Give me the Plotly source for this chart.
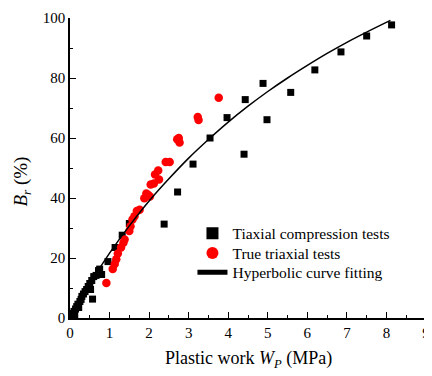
import plotly.graph_objects as go

# Triaxial compression tests (black squares)
tc_x = [0.03, 0.06, 0.08, 0.10, 0.12, 0.14, 0.17, 0.20, 0.22, 0.25, 0.28, 0.30, 0.34, 0.38,
        0.42, 0.46, 0.50, 0.52, 0.55, 0.57, 0.60, 0.66, 0.72, 0.75, 0.80, 0.96, 1.14, 1.32,
        1.50, 2.38, 2.72, 3.11, 3.54, 3.97, 4.40, 4.43, 4.88, 4.98, 5.58, 6.19, 6.85, 7.50, 8.13]
tc_y = [0.3, 0.8, 1.5, 2.2, 1.0, 3.0, 3.8, 4.6, 3.5, 5.5, 6.2, 7.2, 8.0, 8.8,
        9.5, 10.5, 11.5, 9.5, 12.5, 6.3, 13.8, 14.2, 15.8, 16.3, 14.5, 18.8, 23.5, 27.6,
        31.5, 31.3, 42.0, 51.3, 60.0, 66.8, 54.6, 72.8, 78.2, 66.1, 75.2, 82.7, 88.7, 94.0, 97.7]

# True triaxial tests (red circles)
tt_x = [0.92, 1.08, 1.13, 1.17, 1.21, 1.29, 1.35, 1.38, 1.50, 1.53, 1.58, 1.63, 1.69, 1.76,
        1.88, 1.93, 1.98, 2.02, 2.04, 2.12, 2.15, 2.23, 2.25, 2.42, 2.52, 2.71, 2.75, 2.77,
        3.23, 3.25, 3.76]
tt_y = [11.7, 16.3, 18.0, 19.6, 21.5, 23.5, 25.1, 26.2, 29.0, 30.6, 32.8, 33.9, 35.7, 36.1,
        39.9, 41.5, 41.0, 40.5, 44.5, 44.8, 47.8, 49.2, 46.2, 52.0, 52.0, 59.6, 60.0, 58.5,
        67.0, 66.0, 73.4]

# Hyperbolic curve fitting
fit_x = [0, 0.5, 1.0, 1.5, 2.0, 2.5, 3.0, 3.5, 4.0, 4.5, 5.0, 5.5, 6.0, 6.5, 7.0, 7.5, 8.1]
fit_y = [0, 11.4, 21.6, 30.7, 39.0, 46.4, 53.3, 59.5, 65.3, 70.6, 75.5, 80.0, 84.2, 88.2, 91.9, 95.3, 99.2]

x_ticks = [0, 1, 2, 3, 4, 5, 6, 7, 8, 9]
y_ticks = [0, 20, 40, 60, 80, 100]

series_names = ["Tiaxial compression tests", "True triaxial tests", "Hyperbolic curve fitting"]

FONT = "Liberation Serif, Times New Roman, serif"

fig = go.Figure()
fig.add_trace(go.Scatter(x=tc_x, y=tc_y, mode="markers", name=series_names[0], legend="legend",
                         marker=dict(symbol="square", size=7, color="black")))
fig.add_trace(go.Scatter(x=tt_x, y=tt_y, mode="markers", name=series_names[1], legend="legend2",
                         marker=dict(symbol="circle", size=8.5, color="#ff0000")))
fig.add_trace(go.Scatter(x=fit_x, y=fit_y, mode="lines", name=series_names[2], legend="legend3",
                         line=dict(color="black", width=1.5, shape="spline")))

axis_common = dict(showline=True, linecolor="black", linewidth=1.5, showgrid=False,
                   zeroline=False, ticks="inside", ticklen=6, tickwidth=1.2, tickcolor="black",
                   tickfont=dict(family=FONT, size=15, color="black"), mirror=False,
                   ticklabeloverflow="allow")

fig.update_xaxes(range=[0, 9], tickvals=x_ticks, ticktext=[str(v) for v in x_ticks],
                 minor=dict(ticks="inside", ticklen=3, dtick=0.5, tickcolor="black", tickwidth=1),
                 **axis_common)
fig.update_yaxes(range=[0, 100], tickvals=y_ticks, ticktext=[str(v) for v in y_ticks],
                 minor=dict(ticks="inside", ticklen=3, dtick=10, tickcolor="black", tickwidth=1),
                 **axis_common)

leg_common = dict(xanchor="left", yanchor="top", x=0.344,
                  font=dict(family=FONT, size=15.5, color="black"),
                  bgcolor="rgba(0,0,0,0)", itemsizing="constant")

fig.update_layout(
    width=424, height=368,
    margin=dict(l=62, r=2, t=6, b=58),
    paper_bgcolor="white", plot_bgcolor="white",
    showlegend=True,
    legend=dict(y=0.338, **leg_common),
    legend2=dict(y=0.272, **leg_common),
    legend3=dict(y=0.208, **leg_common),
    annotations=[
        dict(text="Plastic work <i>W</i><sub><i>P</i></sub> (MPa)", xref="paper", yref="paper",
             x=0.5, y=-0.138, xanchor="center", yanchor="middle", showarrow=False,
             font=dict(family=FONT, size=18, color="black")),
        dict(text="<i>B</i><sub><i>r</i></sub> (%)", xref="paper", yref="paper",
             x=-0.134, y=0.4556, xanchor="center", yanchor="middle", showarrow=False,
             textangle=-90, font=dict(family=FONT, size=19, color="black")),
    ],
)

fig.write_html("out.html")
